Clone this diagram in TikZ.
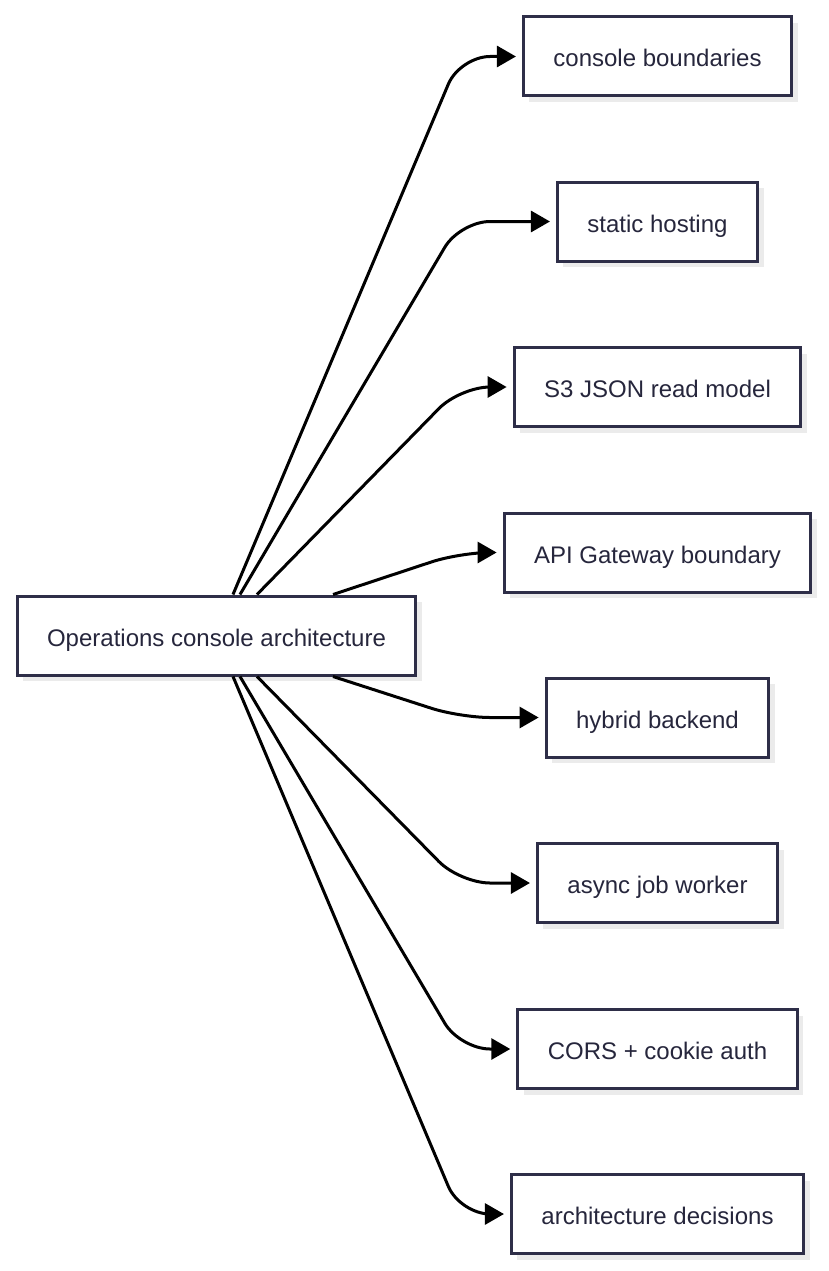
\documentclass[tikz,border=0pt]{standalone}
\usepackage{fontspec}
\setmainfont{Liberation Sans}
\usepackage{xcolor}
\usetikzlibrary{arrows.meta,shadows}
\definecolor{boxline}{HTML}{2E2E48}
\definecolor{boxtext}{HTML}{26263C}
\definecolor{boxshade}{HTML}{EBEBEB}

\begin{document}
\begin{tikzpicture}[x=1pt,y=-1pt,
    box/.style={draw=boxline,line width=3pt,fill=white,text=boxtext,
      font=\fontsize{24}{29}\selectfont,minimum height=79pt,inner xsep=30pt,inner ysep=0pt,
      text height=24pt,text depth=3pt,
      drop shadow={shadow xshift=6pt,shadow yshift=-6pt,fill=boxshade,opacity=1}},
    edge/.style={draw=black,line width=3pt,rounded corners=30pt,
      -{Triangle[length=19pt,width=21pt]},shorten >=6pt}]
  \useasboundingbox (0,0) rectangle (828,1271);
  \coordinate (bend) at (460,0);
  \node[box] (ops) at (216.5,635.5) {Operations console architecture};
  \node[box] (cb)  at (657.5,56.5)  {console boundaries};
  \node[box] (sh)  at (657.5,221.5) {static hosting};
  \node[box] (s3)  at (657.5,387)   {S3 JSON read model};
  \node[box] (api) at (657.5,552.5) {API Gateway boundary};
  \node[box] (hb)  at (657.5,717.5) {hybrid backend};
  \node[box] (job) at (657.5,883)   {async job worker};
  \node[box] (cors) at (657.5,1049) {CORS + cookie auth};
  \node[box] (adr) at (657.5,1214)  {architecture decisions};
  \draw[edge] ([xshift=16.5pt]ops.north)  -- (bend |- cb.west)   -- (cb.west);
  \draw[edge] ([xshift=23.5pt]ops.north)  -- (bend |- sh.west)   -- (sh.west);
  \draw[edge] ([xshift=40.5pt]ops.north)  -- (bend |- s3.west)   -- (s3.west);
  \draw[edge] ([xshift=116.5pt]ops.north) -- (bend |- api.west)  -- (api.west);
  \draw[edge] ([xshift=116.5pt]ops.south) -- (bend |- hb.west)   -- (hb.west);
  \draw[edge] ([xshift=40.5pt]ops.south)  -- (bend |- job.west)  -- (job.west);
  \draw[edge] ([xshift=23.5pt]ops.south)  -- (bend |- cors.west) -- (cors.west);
  \draw[edge] ([xshift=16.5pt]ops.south)  -- (bend |- adr.west)  -- (adr.west);
\end{tikzpicture}
\end{document}
